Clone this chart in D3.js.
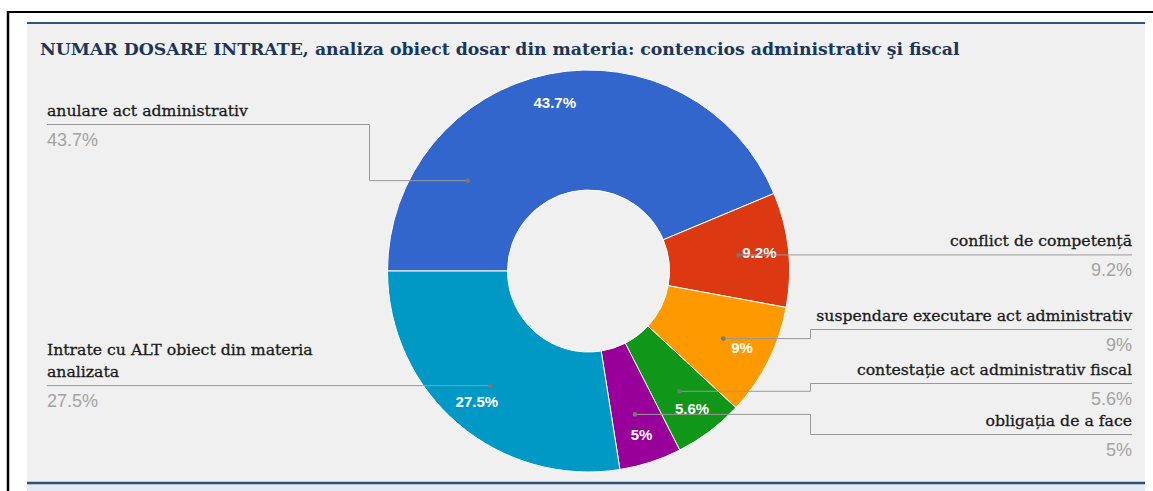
<!DOCTYPE html>
<html><head><meta charset="utf-8">
<script src="https://cdn.jsdelivr.net/npm/d3@7"></script>
<style>html,body{margin:0;padding:0;background:#fff;} svg{display:block;}</style>
</head><body>
<svg id="chart" width="1153" height="491"></svg>
<script>
// ---- data ----
const title = "NUMAR DOSARE INTRATE, analiza obiect dosar din materia: contencios administrativ şi fiscal";
const categories = [
  "anulare act administrativ",
  "conflict de competență",
  "suspendare executare act administrativ",
  "contestație act administrativ fiscal",
  "obligația de a face",
  "Intrate cu ALT obiect din materia analizata"
];
const values = [43.7, 9.2, 9, 5.6, 5, 27.5];
const colors = ["#3366cc", "#dc3912", "#ff9900", "#109618", "#990099", "#0099c6"];

// ---- layout ----
const W = 1153, H = 491;
const cx = 588.5, cy = 271, R = 201, R0 = 81;
const labelLineY = [124.5, null, 329.5, 383.5, 434.5, null]; // legend underline rows (layout)
const dotFrac = [0.234, 0.5, 0.5, 0.5, 0.5, 0.5];
const leftX = 47, rightX = 1132, leftElbow = 369.5, rightElbow = 810.5;
const serif = "'DejaVu Serif', serif";
const sans = "'Liberation Sans', Arial, sans-serif";

const svg = d3.select("#chart");

// frame
svg.append("rect").attr("x", 0).attr("y", 0).attr("width", W).attr("height", H).attr("fill", "#fff");
svg.append("rect").attr("x", 27).attr("y", 22).attr("width", 1118).attr("height", 462).attr("fill", "#f0f0f0");
svg.append("rect").attr("x", 27).attr("y", 484).attr("width", 1118).attr("height", 7).attr("fill", "#e4eaf1");
svg.append("line").attr("x1", 27).attr("x2", 1145).attr("y1", 23).attr("y2", 23).attr("stroke", "#34547c").attr("stroke-width", 2);
svg.append("line").attr("x1", 27).attr("x2", 1145).attr("y1", 483).attr("y2", 483).attr("stroke", "#2f5079").attr("stroke-width", 2.5);
svg.append("line").attr("x1", 7).attr("x2", W).attr("y1", 12).attr("y2", 12).attr("stroke", "#000").attr("stroke-width", 2);
svg.append("line").attr("x1", 8).attr("x2", 8).attr("y1", 11).attr("y2", H).attr("stroke", "#000").attr("stroke-width", 2.5);

// title
svg.append("text").attr("x", 40).attr("y", 54.5)
  .attr("font-family", serif).attr("font-weight", "bold").attr("font-size", 17.3).attr("fill", "#1b3658")
  .text(title);

// pie
const pie = d3.pie().sort(null).value(d => d).startAngle(-Math.PI / 2).endAngle(3 * Math.PI / 2);
const arcs = pie(values);
const arc = d3.arc().innerRadius(R0).outerRadius(R);
const g = svg.append("g").attr("transform", `translate(${cx},${cy})`);
g.selectAll("path.slice").data(arcs).join("path")
  .attr("class", "slice")
  .attr("d", arc)
  .attr("fill", (d, i) => colors[i])
  .attr("stroke", "#ffffff").attr("stroke-width", 1);

const fmt = d3.format(".1~f");
const pct = v => fmt(v) + "%";

// slice labels
const labelArc = d3.arc().innerRadius(R * 0.855).outerRadius(R * 0.855);
g.selectAll("text.inlabel").data(arcs).join("text")
  .attr("class", "inlabel")
  .attr("transform", d => `translate(${labelArc.centroid(d)})`)
  .attr("text-anchor", "middle").attr("dy", "0.36em")
  .attr("font-family", sans).attr("font-weight", "bold").attr("font-size", 15)
  .attr("fill", "#fff")
  .text(d => pct(d.data));

// leader lines + legend labels
function polar(a, rr) { return [cx + rr * Math.sin(a), cy - rr * Math.cos(a)]; }
const lines = svg.append("g");
const labels = svg.append("g");

arcs.forEach((d, i) => {
  const mid = (d.startAngle + d.endAngle) / 2;
  const norm = ((mid % (2 * Math.PI)) + 2 * Math.PI) % (2 * Math.PI);
  const left = norm > Math.PI;
  const a = d.startAngle + dotFrac[i] * (d.endAngle - d.startAngle);
  const [dx, dy] = polar(a, R * 0.75);
  const ly = labelLineY[i] == null ? dy : labelLineY[i];
  const tx = left ? leftX : rightX;
  const elbow = left ? leftElbow : rightElbow;
  const pts = labelLineY[i] == null ? [[tx, ly], [dx, dy]] : [[tx, ly], [elbow, ly], [elbow, dy], [dx, dy]];
  lines.append("path")
    .attr("d", d3.line()(pts))
    .attr("fill", "none").attr("stroke", "#999").attr("stroke-width", 1);
  lines.append("circle").attr("cx", dx).attr("cy", dy).attr("r", 2.3).attr("fill", "#777");

  // wrap name
  const maxW = left ? 300 : 330;
  const words = categories[i].split(" ");
  const probe = labels.append("text").attr("font-family", serif).attr("font-size", 15.7);
  const rows = [];
  let cur = "";
  words.forEach(w => {
    const t = cur ? cur + " " + w : w;
    probe.text(t);
    if (probe.node().getComputedTextLength() > maxW && cur) { rows.push(cur); cur = w; }
    else cur = t;
  });
  rows.push(cur);
  probe.remove();
  rows.forEach((row, k) => {
    labels.append("text")
      .attr("x", tx).attr("y", ly - 8.5 - (rows.length - 1 - k) * 22.3)
      .attr("text-anchor", left ? "start" : "end")
      .attr("font-family", serif).attr("font-size", 15.7).attr("fill", "#1a1a1a")
      .attr("stroke", "#1a1a1a").attr("stroke-width", 0.3)
      .text(row);
  });
  labels.append("text")
    .attr("x", tx).attr("y", ly + 21.5)
    .attr("text-anchor", left ? "start" : "end")
    .attr("font-family", sans).attr("font-size", 18).attr("fill", "#a3a3a3")
    .text(pct(d.data));
});
</script>
</body></html>
